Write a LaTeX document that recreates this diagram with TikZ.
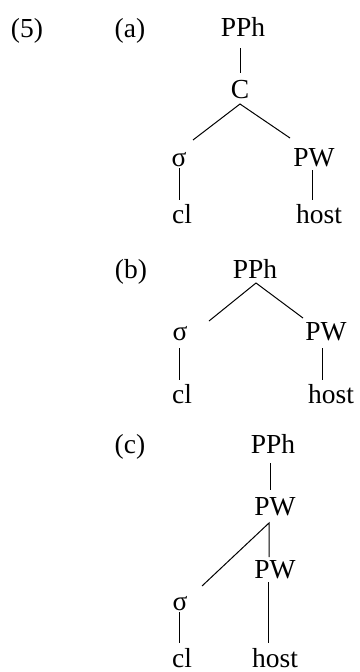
\documentclass[tikz,border=0pt]{standalone}
\usepackage{fontspec}
\setmainfont{Liberation Serif}
\begin{document}
\begin{tikzpicture}[x=1pt,y=-1pt,
  lab/.style={anchor=base, inner sep=0pt, font=\fontsize{27.5}{32}\selectfont},
  edge/.style={line width=1pt}]
\useasboundingbox (0,0) rectangle (359,672);
% labels
\node[lab] (n5) at (27,37) {(5)};
\node[lab] (na) at (130,37) {(a)};
\node[lab] (nb) at (131,278) {(b)};
\node[lab] (nc) at (130,453) {(c)};
% tree (a)
\node[lab] (aPPh) at (243,36) {PPh};
\node[lab] (aC) at (240,98) {C};
\node[lab] (asig) at (179,166) {σ};
\node[lab] (aPW) at (314,166) {PW};
\node[lab] (acl) at (182,223) {cl};
\node[lab] (ahost) at (319,223) {host};
\coordinate (a1t) at (240,48); \coordinate (a1b) at (240,73);
\coordinate (aCb) at (240,104);
\coordinate (asigt) at (193,140); \coordinate (aPWt) at (290,138);
\coordinate (a2t) at (179,168); \coordinate (a2b) at (179,200);
\coordinate (a3t) at (312,170); \coordinate (a3b) at (312,200);
\draw[edge] (a1t) -- (a1b);
\draw[edge] (asigt) -- (aCb) -- (aPWt);
\draw[edge] (a2t) -- (a2b);
\draw[edge] (a3t) -- (a3b);
% tree (b)
\node[lab] (bPPh) at (255,278) {PPh};
\node[lab] (bsig) at (180,340) {σ};
\node[lab] (bPW) at (326,340) {PW};
\node[lab] (bcl) at (182,403) {cl};
\node[lab] (bhost) at (331,403) {host};
\coordinate (bPPhb) at (256,283);
\coordinate (bsigt) at (209,321); \coordinate (bPWt) at (303,318);
\coordinate (b2t) at (179,348); \coordinate (b2b) at (179,380);
\coordinate (b3t) at (322,348); \coordinate (b3b) at (322,380);
\draw[edge] (bsigt) -- (bPPhb) -- (bPWt);
\draw[edge] (b2t) -- (b2b);
\draw[edge] (b3t) -- (b3b);
% tree (c)
\node[lab] (cPPh) at (273,453) {PPh};
\node[lab] (cPWa) at (275,515) {PW};
\node[lab] (cPWb) at (275,578) {PW};
\node[lab] (csig) at (180,610) {σ};
\node[lab] (ccl) at (182,667) {cl};
\node[lab] (chost) at (275,667) {host};
\coordinate (c1t) at (270,463); \coordinate (c1b) at (270,490);
\coordinate (cPWab) at (269,523);
\coordinate (csigt) at (202,586); \coordinate (cPWbt) at (269,557);
\coordinate (c2t) at (268,582); \coordinate (c2b) at (268,643);
\coordinate (c3t) at (179,612); \coordinate (c3b) at (179,643);
\draw[edge] (c1t) -- (c1b);
\draw[edge] (csigt) -- (cPWab) -- (cPWbt);
\draw[edge] (c2t) -- (c2b);
\draw[edge] (c3t) -- (c3b);
\end{tikzpicture}
\end{document}
